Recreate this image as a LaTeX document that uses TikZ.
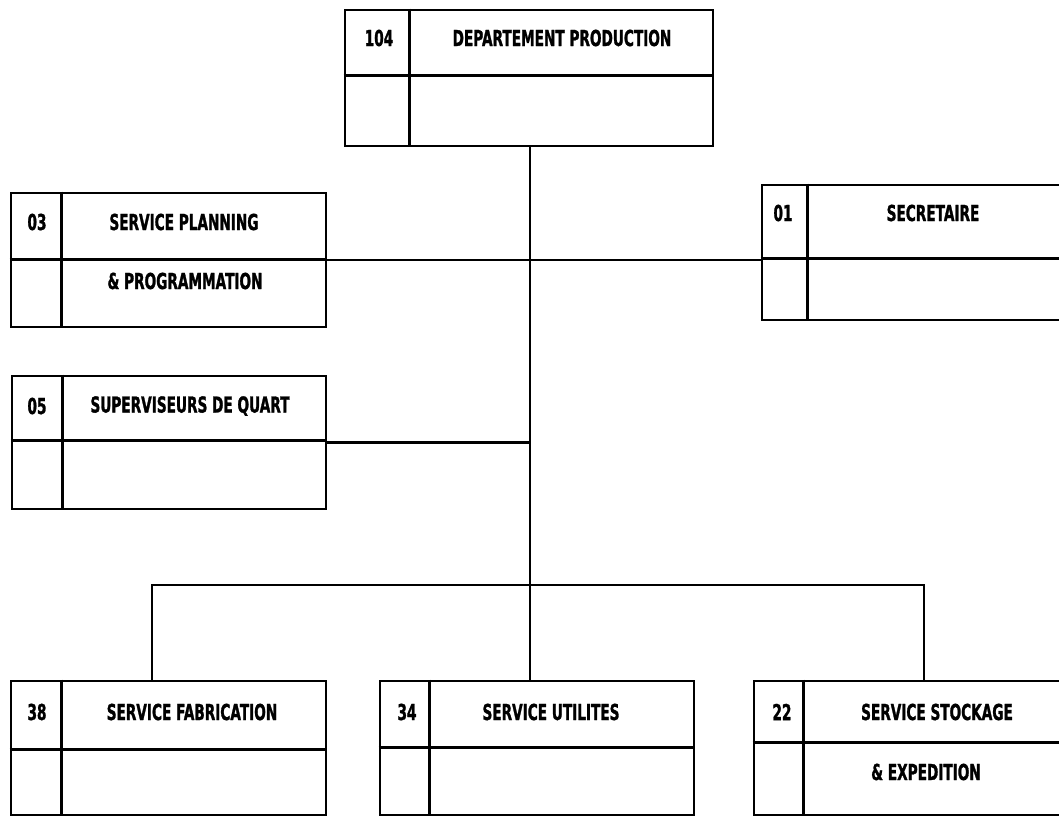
\documentclass[tikz,border=0pt]{standalone}
\usepackage{fontspec}
\setmainfont{DejaVu Sans}[FakeStretch=0.62, BoldFeatures={FakeBold=1.2}]
\tikzset{
  unitbox/.style={draw, line width=2.6pt, inner sep=0pt},
  lbl/.style={font=\bfseries\fontsize{22}{24}\selectfont, inner sep=0pt},
  link/.style={line width=2.6pt}
}
\begin{document}
\begin{tikzpicture}[x=1pt,y=-1pt]
	% Page and background
	\useasboundingbox (0,0) rectangle (1059,817);
	\fill[white] (0,0) rectangle (1059,817);
	
	% Boxes of the chart
	\node[unitbox, minimum width=368pt, minimum height=136pt] (dept) at (529,78) {};
	\node[unitbox, minimum width=315pt, minimum height=134pt] (plan) at (168.5,260) {};
	\node[unitbox, minimum width=313pt, minimum height=135pt] (secr) at (918.5,252.5) {};
	\node[unitbox, minimum width=314pt, minimum height=133pt] (quart) at (169,442.5) {};
	\node[unitbox, minimum width=315pt, minimum height=134pt] (fab) at (168.5,748) {};
	\node[unitbox, minimum width=314pt, minimum height=134pt] (util) at (537,748) {};
	\node[unitbox, minimum width=321pt, minimum height=134pt] (stock) at (914.5,748) {};
	
	% Column and row lines inside the boxes
	\foreach \b/\d/\m in {dept/66/67, plan/52/68, secr/47/75, quart/52/66, fab/52/70, util/51/68, stock/51/63} {
		\draw[link] ([xshift=\d pt]\b.north west) -- ([xshift=\d pt]\b.south west);
		\draw[link] ([yshift=-\m pt]\b.north west) -- ([yshift=-\m pt]\b.north east);
	}
	
	% Labels
	\node[lbl] (dept-num) at (379,38) {104};
	\node[lbl] (dept-name) at (562,38) {DEPARTEMENT PRODUCTION};
	\node[lbl] (plan-num) at (37,222) {03};
	\node[lbl] (plan-name) at (184,222) {SERVICE PLANNING};
	\node[lbl] (plan-more) at (185,281) {\& PROGRAMMATION};
	\node[lbl] (secr-num) at (783,213) {01};
	\node[lbl] (secr-name) at (933,213) {SECRETAIRE};
	\node[lbl] (quart-num) at (37,406) {05};
	\node[lbl] (quart-name) at (190,406) {SUPERVISEURS DE QUART};
	\node[lbl] (fab-num) at (37,712) {38};
	\node[lbl] (fab-name) at (192,712) {SERVICE FABRICATION};
	\node[lbl] (util-num) at (407,712) {34};
	\node[lbl] (util-name) at (551,712) {SERVICE UTILITES};
	\node[lbl] (stock-num) at (782,712) {22};
	\node[lbl] (stock-name) at (937,712) {SERVICE STOCKAGE};
	\node[lbl] (stock-more) at (926,772) {\& EXPEDITION};
	
	% Connectors
	\coordinate (jb) at (530,585);
	\draw[link] (dept.south -| jb) -- (jb);
	\draw[link] (plan.east) -- (plan.east -| secr.west);
	\draw[link] (quart.east) -- (quart.east -| jb);
	\draw[link] ([xshift=-16.5pt]fab.north) |- (jb) -| ([xshift=9.5pt]stock.north);
	\draw[link] (jb) -- (util.north -| jb);
\end{tikzpicture}
\end{document}
